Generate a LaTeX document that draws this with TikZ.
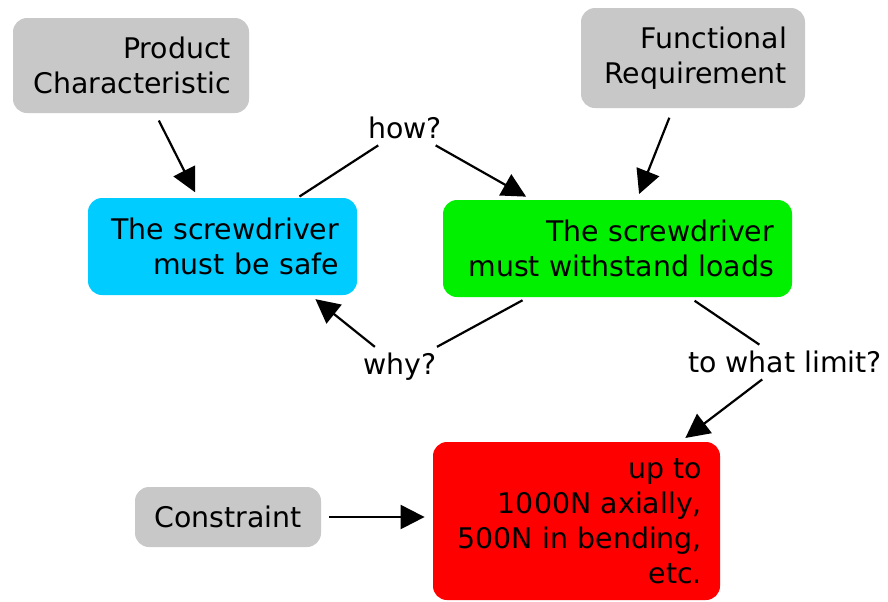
\documentclass[tikz,border=0pt]{standalone}
\usepackage{fontspec}
\setmainfont{DejaVu Sans}
\usetikzlibrary{arrows.meta,positioning}
\definecolor{boxgray}{RGB}{200,200,200}
\definecolor{safeblue}{RGB}{0,204,255}
\definecolor{loadgreen}{RGB}{0,240,0}
\definecolor{limitred}{RGB}{255,0,0}

\begin{document}
\begin{tikzpicture}[x=0.5pt,y=-0.5pt,
  concept/.style={rounded corners=7pt, inner xsep=9pt, inner ysep=0pt, align=right,
    font=\fontsize{14.2}{17.5}\selectfont},
  linker/.style={inner sep=3pt, font=\fontsize{14.2}{17.5}\selectfont},
  link/.style={line width=1.1pt},
  arr/.style={line width=1.1pt, -{Triangle[length=12pt,width=12pt]}}]
\useasboundingbox (0,0) rectangle (888,601);

% concepts
\node[concept, fill=boxgray, minimum height=47.5pt, text width=100pt] (product) at (131,65.5) {Product\\Characteristic};
\node[concept, fill=boxgray, minimum height=50pt, text width=94pt] (func) at (693,58) {Functional\\Requirement};
\node[concept, fill=safeblue, minimum height=48.5pt, text width=116.5pt] (safe) at (222.5,246.5) {The screwdriver\\must be safe};
\node[concept, fill=loadgreen, minimum height=48.5pt, text width=156.5pt] (loads) at (617.5,248.5) {The screwdriver\\must withstand loads};
\node[concept, fill=limitred, minimum height=79pt, text width=125.5pt] (limits) at (576.5,521) {up to\\1000N axially,\\500N in bending,\\etc.};
\node[concept, fill=boxgray, minimum height=30pt, text width=75pt, align=center] (constraint) at (228,517) {Constraint};

% linking phrases
\node[linker] (how) at (405,128) {how?};
\node[linker] (why) at (400,367) {why?};
\node[linker] (limit) at (785,362) {to what limit?};

\draw[arr, shorten <=4pt, shorten >=3pt] (product) -- (safe);
\draw[arr, shorten <=5pt, shorten >=3pt] (func) -- (loads);
\draw[link, shorten <=1pt] (safe) -- (how);
\draw[arr, shorten >=3pt] (how) -- (loads);
\draw[link, shorten <=3pt] (loads) -- (why);
\draw[arr, shorten >=3pt] (why) -- (safe.-29);
\draw[link, shorten <=3pt] (loads) -- (limit);
\draw[arr, shorten >=3pt] (limit) -- (limits);
\draw[arr, shorten <=4pt, shorten >=4pt] (constraint) -- (constraint -| limits.west);
\end{tikzpicture}
\end{document}
